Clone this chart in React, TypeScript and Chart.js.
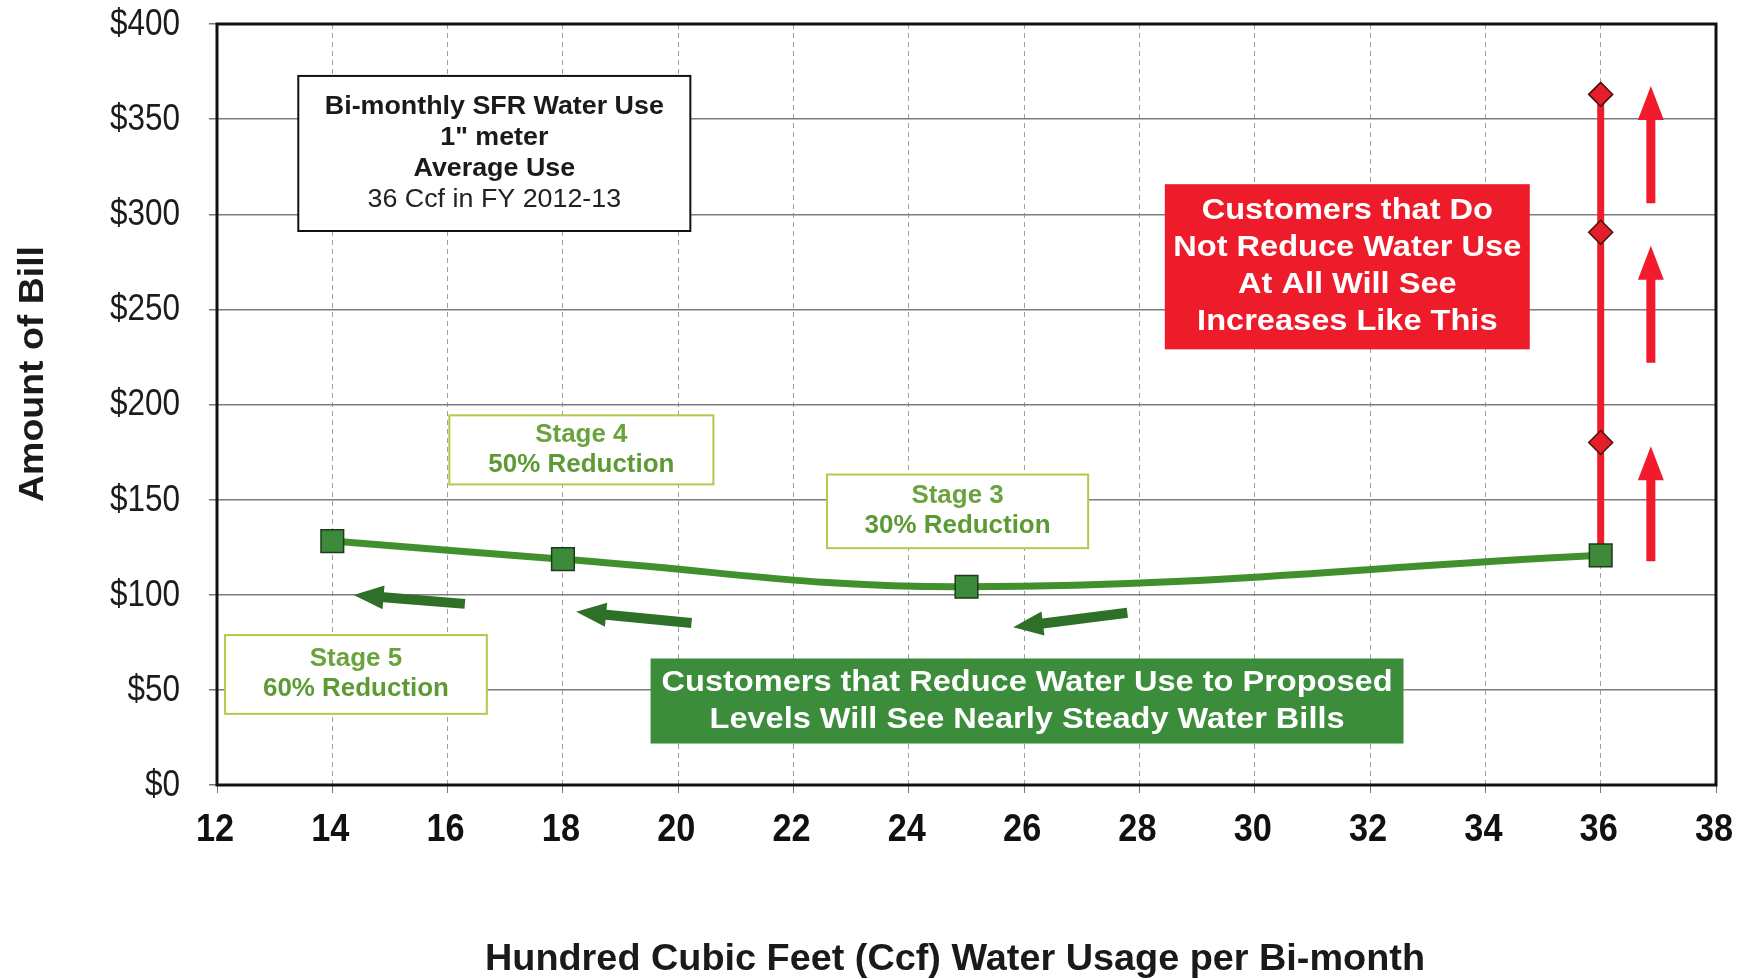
import { useEffect, useRef } from "react";
import { Chart, registerables } from "chart.js";

Chart.register(...registerables);

// ---- data ----
const stageUsage = [14, 18, 25, 36];
const stageBill = [128.2, 118.7, 104.2, 120.7];
const noReductionUsage = [36, 36, 36, 36];
const noReductionBill = [120.7, 180, 290.5, 363];
const xMin = 12;
const xMax = 38;
const xStep = 2;
const yMin = 0;
const yMax = 400;
const yStep = 50;

// arrows (data units)
const redArrowX = 36.87;
const redArrowFrom = [117.6, 221.9, 305.8];
const redArrowTo = [178.0, 283.5, 367.4];
const greenArrowFromX = [16.3, 20.23, 27.79];
const greenArrowFromY = [95.2, 85.2, 90.5];
const greenArrowToX = [14.37, 18.23, 25.81];
const greenArrowToY = [99.9, 91.0, 82.9];

// annotation text
const infoLines = ["Bi-monthly SFR Water Use", "1\" meter", "Average Use", "36 Ccf in FY 2012-13"];
const redLines = ["Customers that Do", "Not Reduce Water Use", "At All Will See", "Increases Like This"];
const greenLines = ["Customers that Reduce Water Use to Proposed", "Levels Will See Nearly Steady Water Bills"];
const stage4Lines = ["Stage 4", "50% Reduction"];
const stage3Lines = ["Stage 3", "30% Reduction"];
const stage5Lines = ["Stage 5", "60% Reduction"];

const SANS = "'Liberation Sans', Arial, sans-serif";

type Box = {
  x0: number; x1: number; y0: number; y1: number;
  lines: string[];
  fill: string; stroke: string; strokeWidth: number;
  colors: string[]; weights: string[];
  size: number; spacing: number; refLine: number; refWidth: number; family: string;
};

const boxes: Box[] = [
  { x0: 13.41, x1: 20.21, y0: 291.2, y1: 372.7, lines: infoLines, fill: "#ffffff", stroke: "#111111", strokeWidth: 2,
    colors: ["#1a1a1a", "#1a1a1a", "#1a1a1a", "#222222"], weights: ["bold", "bold", "bold", "normal"],
    size: 26, spacing: 31, refLine: 0, refWidth: 339, family: SANS },
  { x0: 28.44, x1: 34.77, y0: 229.0, y1: 315.8, lines: redLines, fill: "#ee1c2b", stroke: "#ee1c2b", strokeWidth: 0,
    colors: ["#ffffff", "#ffffff", "#ffffff", "#ffffff"], weights: ["bold", "bold", "bold", "bold"],
    size: 29, spacing: 37, refLine: 1, refWidth: 348, family: SANS },
  { x0: 16.03, x1: 20.61, y0: 158.0, y1: 194.3, lines: stage4Lines, fill: "#ffffff", stroke: "#b3c94a", strokeWidth: 2,
    colors: ["#6aa33e", "#5c9a33"], weights: ["bold", "bold"],
    size: 25, spacing: 30, refLine: 1, refWidth: 186, family: SANS },
  { x0: 22.58, x1: 27.11, y0: 124.5, y1: 163.2, lines: stage3Lines, fill: "#ffffff", stroke: "#b3c94a", strokeWidth: 2,
    colors: ["#6aa33e", "#5c9a33"], weights: ["bold", "bold"],
    size: 25, spacing: 30, refLine: 1, refWidth: 186, family: SANS },
  { x0: 12.14, x1: 16.68, y0: 37.4, y1: 78.8, lines: stage5Lines, fill: "#ffffff", stroke: "#b3c94a", strokeWidth: 2,
    colors: ["#6aa33e", "#5c9a33"], weights: ["bold", "bold"],
    size: 25, spacing: 30, refLine: 1, refWidth: 186, family: SANS },
  { x0: 19.52, x1: 32.58, y0: 21.8, y1: 66.5, lines: greenLines, fill: "#3b8c3b", stroke: "#3b8c3b", strokeWidth: 0,
    colors: ["#ffffff", "#ffffff"], weights: ["bold", "bold"],
    size: 29, spacing: 37, refLine: 0, refWidth: 731, family: SANS },
];

const Y_TITLE = "Amount of Bill";
const X_TITLE = "Hundred Cubic Feet (Ccf) Water Usage per Bi-month";

function drawArrow(ctx: CanvasRenderingContext2D, x0: number, y0: number, x1: number, y1: number,
  shaft: number, headW: number, headL: number, color: string) {
  const dx = x1 - x0, dy = y1 - y0;
  const len = Math.hypot(dx, dy);
  const ux = dx / len, uy = dy / len;
  const nx = -uy, ny = ux;
  const bx = x1 - ux * headL, by = y1 - uy * headL;
  ctx.save();
  ctx.fillStyle = color;
  ctx.beginPath();
  ctx.moveTo(x0 + nx * shaft / 2, y0 + ny * shaft / 2);
  ctx.lineTo(bx + nx * shaft / 2, by + ny * shaft / 2);
  ctx.lineTo(bx + nx * headW / 2, by + ny * headW / 2);
  ctx.lineTo(x1, y1);
  ctx.lineTo(bx - nx * headW / 2, by - ny * headW / 2);
  ctx.lineTo(bx - nx * shaft / 2, by - ny * shaft / 2);
  ctx.lineTo(x0 - nx * shaft / 2, y0 - ny * shaft / 2);
  ctx.closePath();
  ctx.fill();
  ctx.restore();
}

function drawScaledText(ctx: CanvasRenderingContext2D, text: string, x: number, y: number, sx: number) {
  ctx.save();
  ctx.translate(x, y);
  ctx.scale(sx, 1);
  ctx.fillText(text, 0, 0);
  ctx.restore();
}

const annotationPlugin = {
  id: "annotations",
  beforeDatasetsDraw(chart: any) {
    const ctx: CanvasRenderingContext2D = chart.ctx;
    const xs = chart.scales.x, ys = chart.scales.y;
    const a = chart.chartArea;
    // frame
    ctx.save();
    ctx.strokeStyle = "#111111";
    ctx.lineWidth = 3;
    ctx.strokeRect(a.left, a.top, a.right - a.left, a.bottom - a.top);
    ctx.restore();
    // boxes
    for (const b of boxes) {
      const l = xs.getPixelForValue(b.x0), r = xs.getPixelForValue(b.x1);
      const t = ys.getPixelForValue(b.y1), btm = ys.getPixelForValue(b.y0);
      ctx.save();
      ctx.fillStyle = b.fill;
      ctx.fillRect(l, t, r - l, btm - t);
      if (b.strokeWidth > 0) {
        ctx.strokeStyle = b.stroke;
        ctx.lineWidth = b.strokeWidth;
        ctx.strokeRect(l, t, r - l, btm - t);
      }
      ctx.font = `${b.weights[b.refLine]} ${b.size}px ${b.family}`;
      const sx = b.refWidth / ctx.measureText(b.lines[b.refLine]).width;
      const cx = (l + r) / 2, cy = (t + btm) / 2;
      const n = b.lines.length;
      ctx.textAlign = "center";
      ctx.textBaseline = "middle";
      b.lines.forEach((line, i) => {
        ctx.font = `${b.weights[i]} ${b.size}px ${b.family}`;
        ctx.fillStyle = b.colors[i];
        drawScaledText(ctx, line, cx, cy + (i - (n - 1) / 2) * b.spacing, sx);
      });
      ctx.restore();
    }
  },
  afterDatasetsDraw(chart: any) {
    const ctx: CanvasRenderingContext2D = chart.ctx;
    const xs = chart.scales.x, ys = chart.scales.y;
    const rx = xs.getPixelForValue(redArrowX);
    redArrowFrom.forEach((v, i) => {
      drawArrow(ctx, rx, ys.getPixelForValue(v), rx, ys.getPixelForValue(redArrowTo[i]), 9, 26, 34, "#f21b2b");
    });
    greenArrowFromX.forEach((v, i) => {
      drawArrow(ctx, xs.getPixelForValue(v), ys.getPixelForValue(greenArrowFromY[i]),
        xs.getPixelForValue(greenArrowToX[i]), ys.getPixelForValue(greenArrowToY[i]), 10, 24, 30, "#2f7028");
    });
  },
  afterDraw(chart: any) {
    const ctx: CanvasRenderingContext2D = chart.ctx;
    const xs = chart.scales.x, ys = chart.scales.y;
    const a = chart.chartArea;
    ctx.save();
    ctx.textBaseline = "middle";
    // y tick labels (condensed)
    ctx.fillStyle = "#1c1c1c";
    ctx.textAlign = "right";
    ctx.font = `normal 36px ${SANS}`;
    for (const t of ys.ticks) {
      const y = ys.getPixelForValue(t.value);
      drawScaledText(ctx, "$" + t.value, a.left - 37, y + 1, 0.875);
    }
    // x tick labels (condensed bold)
    ctx.fillStyle = "#111111";
    ctx.textAlign = "center";
    ctx.font = `bold 39px ${SANS}`;
    for (const t of xs.ticks) {
      const x = xs.getPixelForValue(t.value);
      drawScaledText(ctx, String(t.value), x - 2, a.bottom + 45, 0.88);
    }
    // axis titles
    ctx.fillStyle = "#1a1a1a";
    ctx.font = `bold 35px ${SANS}`;
    let sx = 256 / ctx.measureText(Y_TITLE).width;
    ctx.save();
    ctx.translate(33, 374);
    ctx.rotate(-Math.PI / 2);
    ctx.scale(sx, 1);
    ctx.fillText(Y_TITLE, 0, 0);
    ctx.restore();
    ctx.font = `bold 37px ${SANS}`;
    sx = 940 / ctx.measureText(X_TITLE).width;
    drawScaledText(ctx, X_TITLE, 955, 960, sx);
    ctx.restore();
  },
};

export default function App() {
  const ref = useRef<HTMLCanvasElement>(null);
  useEffect(() => {
    document.body.style.margin = "0";
    const canvas = ref.current!;
    const chart = new Chart(canvas, {
      type: "scatter",
      data: {
        datasets: [
          {
            type: "line",
            label: "Reduced use",
            data: stageUsage.map((x, i) => ({ x, y: stageBill[i] })),
            borderColor: "#40912d",
            borderWidth: 7,
            tension: 0.4,
            pointStyle: "rect",
            pointRadius: 16,
            pointBackgroundColor: "#3d8a3a",
            pointBorderColor: "#1e3a1a",
            pointBorderWidth: 1.5,
            showLine: true,
            fill: false,
          },
          {
            type: "line",
            label: "No reduction",
            data: noReductionUsage.map((x, i) => ({ x, y: noReductionBill[i] })),
            borderColor: "#ee1d2d",
            borderWidth: 7,
            tension: 0,
            pointStyle: "rectRot",
            pointRadius: [0, 12, 12, 12],
            pointBackgroundColor: "#e51f2a",
            pointBorderColor: "#4a1010",
            pointBorderWidth: 1.5,
            showLine: true,
            fill: false,
          },
        ],
      },
      options: {
        responsive: false,
        animation: false,
        devicePixelRatio: 1,
        layout: { padding: { left: 0, top: 24, right: 25, bottom: 0 } },
        plugins: { legend: { display: false }, tooltip: { enabled: false } },
        scales: {
          x: {
            type: "linear",
            min: xMin,
            max: xMax,
            ticks: { stepSize: xStep, display: false, autoSkip: false },
            grid: { color: "#9aa0ab", lineWidth: 1, tickLength: 8, tickColor: "#777777" },
            border: { display: false, dash: [5, 4] },
            afterFit(scale: any) { scale.height = 194; },
          },
          y: {
            type: "linear",
            min: yMin,
            max: yMax,
            ticks: { stepSize: yStep, display: false },
            grid: { color: "#7d7d7d", lineWidth: 1.5, tickLength: 8, tickColor: "#777777" },
            border: { display: false },
            afterFit(scale: any) { scale.width = 217; },
          },
        },
      },
      plugins: [annotationPlugin],
    });
    return () => chart.destroy();
  }, []);
  return (
    <div style={{ position: "fixed", left: 0, top: 0, width: 1741, height: 979, background: "#ffffff" }}>
      <canvas ref={ref} width={1741} height={979} />
    </div>
  );
}
